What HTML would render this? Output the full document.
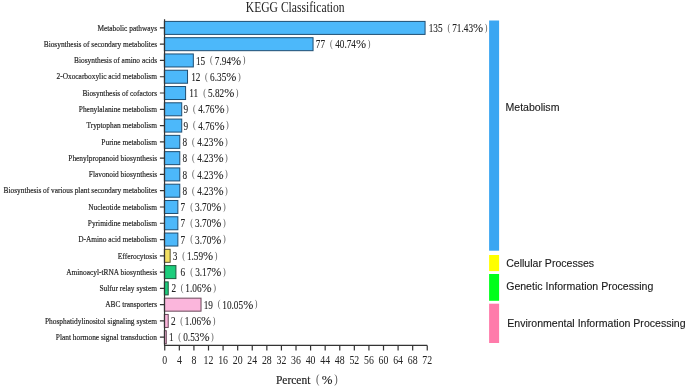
<!DOCTYPE html><html><head><meta charset="utf-8"><style>html,body{margin:0;padding:0;background:#fff;width:685px;height:386px;overflow:hidden}svg{display:block;will-change:transform}text{font-family:"Liberation Serif",serif;fill:#222;stroke:#222;stroke-width:0.18px}.p{fill:#555;stroke:none}.n{stroke:none}.v{stroke-width:0.1px}.s{font-family:"Liberation Sans",sans-serif;fill:#1a1a1a;stroke:#1a1a1a;stroke-width:0.12px}</style></head><body>
<svg width="685" height="386" viewBox="0 0 685 386">
<text transform="translate(245.77,12.30) scale(0.835,1)" font-size="13.9" class="n">KEGG Classification</text>
<rect x="164.35" y="21.40" width="260.72" height="13.00" fill="#4cb8fa" stroke="#1f4e72" stroke-width="1"/>
<rect x="164.35" y="37.68" width="148.70" height="13.00" fill="#4cb8fa" stroke="#1f4e72" stroke-width="1"/>
<rect x="164.35" y="53.96" width="28.98" height="13.00" fill="#4cb8fa" stroke="#1f4e72" stroke-width="1"/>
<rect x="164.35" y="70.24" width="23.18" height="13.00" fill="#4cb8fa" stroke="#1f4e72" stroke-width="1"/>
<rect x="164.35" y="86.52" width="21.24" height="13.00" fill="#4cb8fa" stroke="#1f4e72" stroke-width="1"/>
<rect x="164.35" y="102.80" width="17.37" height="13.00" fill="#4cb8fa" stroke="#1f4e72" stroke-width="1"/>
<rect x="164.35" y="119.08" width="17.37" height="13.00" fill="#4cb8fa" stroke="#1f4e72" stroke-width="1"/>
<rect x="164.35" y="135.36" width="15.44" height="13.00" fill="#4cb8fa" stroke="#1f4e72" stroke-width="1"/>
<rect x="164.35" y="151.64" width="15.44" height="13.00" fill="#4cb8fa" stroke="#1f4e72" stroke-width="1"/>
<rect x="164.35" y="167.92" width="15.44" height="13.00" fill="#4cb8fa" stroke="#1f4e72" stroke-width="1"/>
<rect x="164.35" y="184.20" width="15.44" height="13.00" fill="#4cb8fa" stroke="#1f4e72" stroke-width="1"/>
<rect x="164.35" y="200.48" width="13.51" height="13.00" fill="#4cb8fa" stroke="#1f4e72" stroke-width="1"/>
<rect x="164.35" y="216.76" width="13.51" height="13.00" fill="#4cb8fa" stroke="#1f4e72" stroke-width="1"/>
<rect x="164.35" y="233.04" width="13.51" height="13.00" fill="#4cb8fa" stroke="#1f4e72" stroke-width="1"/>
<rect x="164.35" y="249.32" width="5.80" height="13.00" fill="#f2df62" stroke="#5a5430" stroke-width="1"/>
<rect x="164.35" y="265.60" width="11.57" height="13.00" fill="#1ccd7c" stroke="#1d5a3e" stroke-width="1"/>
<rect x="164.35" y="281.88" width="3.87" height="13.00" fill="#1ccd7c" stroke="#1d5a3e" stroke-width="1"/>
<rect x="164.35" y="298.16" width="36.68" height="13.00" fill="#fbb6dc" stroke="#6a4a5a" stroke-width="1"/>
<rect x="164.35" y="314.44" width="3.87" height="13.00" fill="#fbb6dc" stroke="#6a4a5a" stroke-width="1"/>
<rect x="164.35" y="330.72" width="1.93" height="13.00" fill="#fbb6dc" stroke="#6a4a5a" stroke-width="1"/>
<path d="M164.55 19.30 V345.40 H427.26" fill="none" stroke="#333" stroke-width="1.2"/>
<path d="M159.90 27.90 H164.60M159.90 44.18 H164.60M159.90 60.46 H164.60M159.90 76.74 H164.60M159.90 93.02 H164.60M159.90 109.30 H164.60M159.90 125.58 H164.60M159.90 141.86 H164.60M159.90 158.14 H164.60M159.90 174.42 H164.60M159.90 190.70 H164.60M159.90 206.98 H164.60M159.90 223.26 H164.60M159.90 239.54 H164.60M159.90 255.82 H164.60M159.90 272.10 H164.60M159.90 288.38 H164.60M159.90 304.66 H164.60M159.90 320.94 H164.60M159.90 337.22 H164.60" stroke="#333" stroke-width="1.2"/>
<path d="M164.75 345.40 V350.40M179.33 345.40 V350.40M193.92 345.40 V350.40M208.50 345.40 V350.40M223.09 345.40 V350.40M237.67 345.40 V350.40M252.25 345.40 V350.40M266.84 345.40 V350.40M281.42 345.40 V350.40M296.01 345.40 V350.40M310.59 345.40 V350.40M325.17 345.40 V350.40M339.76 345.40 V350.40M354.34 345.40 V350.40M368.93 345.40 V350.40M383.51 345.40 V350.40M398.09 345.40 V350.40M412.68 345.40 V350.40M427.26 345.40 V350.40" stroke="#333" stroke-width="1.2"/>
<text transform="translate(164.75,363.90) scale(0.82,1)" font-size="12.0" text-anchor="middle" class="n">0</text>
<text transform="translate(179.33,363.90) scale(0.82,1)" font-size="12.0" text-anchor="middle" class="n">4</text>
<text transform="translate(193.92,363.90) scale(0.82,1)" font-size="12.0" text-anchor="middle" class="n">8</text>
<text transform="translate(208.50,363.90) scale(0.82,1)" font-size="12.0" text-anchor="middle" class="n">12</text>
<text transform="translate(223.09,363.90) scale(0.82,1)" font-size="12.0" text-anchor="middle" class="n">16</text>
<text transform="translate(237.67,363.90) scale(0.82,1)" font-size="12.0" text-anchor="middle" class="n">20</text>
<text transform="translate(252.25,363.90) scale(0.82,1)" font-size="12.0" text-anchor="middle" class="n">24</text>
<text transform="translate(266.84,363.90) scale(0.82,1)" font-size="12.0" text-anchor="middle" class="n">28</text>
<text transform="translate(281.42,363.90) scale(0.82,1)" font-size="12.0" text-anchor="middle" class="n">32</text>
<text transform="translate(296.01,363.90) scale(0.82,1)" font-size="12.0" text-anchor="middle" class="n">36</text>
<text transform="translate(310.59,363.90) scale(0.82,1)" font-size="12.0" text-anchor="middle" class="n">40</text>
<text transform="translate(325.17,363.90) scale(0.82,1)" font-size="12.0" text-anchor="middle" class="n">44</text>
<text transform="translate(339.76,363.90) scale(0.82,1)" font-size="12.0" text-anchor="middle" class="n">48</text>
<text transform="translate(354.34,363.90) scale(0.82,1)" font-size="12.0" text-anchor="middle" class="n">52</text>
<text transform="translate(368.93,363.90) scale(0.82,1)" font-size="12.0" text-anchor="middle" class="n">56</text>
<text transform="translate(383.51,363.90) scale(0.82,1)" font-size="12.0" text-anchor="middle" class="n">60</text>
<text transform="translate(398.09,363.90) scale(0.82,1)" font-size="12.0" text-anchor="middle" class="n">64</text>
<text transform="translate(412.68,363.90) scale(0.82,1)" font-size="12.0" text-anchor="middle" class="n">68</text>
<text transform="translate(427.26,363.90) scale(0.82,1)" font-size="12.0" text-anchor="middle" class="n">72</text>
<text transform="translate(275.97,383.80) scale(0.89,1)" font-size="12.9">Percent</text>
<text transform="translate(315.92,383.00) scale(0.85,1)" font-size="12.254999999999999" class="p">(</text>
<text transform="translate(321.86,383.80) scale(1.0,1)" font-size="12.9">%</text>
<text transform="translate(334.15,383.00) scale(0.85,1)" font-size="12.254999999999999" class="p">)</text>
<text transform="translate(157.07,30.65) scale(0.822,1)" font-size="9.0" text-anchor="end">Metabolic pathways</text>
<text transform="translate(157.07,46.93) scale(0.822,1)" font-size="9.0" text-anchor="end">Biosynthesis of secondary metabolites</text>
<text transform="translate(157.07,63.21) scale(0.822,1)" font-size="9.0" text-anchor="end">Biosynthesis of amino acids</text>
<text transform="translate(156.92,79.49) scale(0.822,1)" font-size="9.0" text-anchor="end">2-Oxocarboxylic acid metabolism</text>
<text transform="translate(157.07,95.77) scale(0.822,1)" font-size="9.0" text-anchor="end">Biosynthesis of cofactors</text>
<text transform="translate(156.92,112.05) scale(0.822,1)" font-size="9.0" text-anchor="end">Phenylalanine metabolism</text>
<text transform="translate(156.92,128.33) scale(0.822,1)" font-size="9.0" text-anchor="end">Tryptophan metabolism</text>
<text transform="translate(156.92,144.61) scale(0.822,1)" font-size="9.0" text-anchor="end">Purine metabolism</text>
<text transform="translate(157.07,160.89) scale(0.822,1)" font-size="9.0" text-anchor="end">Phenylpropanoid biosynthesis</text>
<text transform="translate(157.07,177.17) scale(0.822,1)" font-size="9.0" text-anchor="end">Flavonoid biosynthesis</text>
<text transform="translate(157.07,193.45) scale(0.822,1)" font-size="9.0" text-anchor="end">Biosynthesis of various plant secondary metabolites</text>
<text transform="translate(156.92,209.73) scale(0.822,1)" font-size="9.0" text-anchor="end">Nucleotide metabolism</text>
<text transform="translate(156.92,226.01) scale(0.822,1)" font-size="9.0" text-anchor="end">Pyrimidine metabolism</text>
<text transform="translate(156.92,242.29) scale(0.822,1)" font-size="9.0" text-anchor="end">D-Amino acid metabolism</text>
<text transform="translate(157.07,258.57) scale(0.822,1)" font-size="9.0" text-anchor="end">Efferocytosis</text>
<text transform="translate(157.07,274.85) scale(0.822,1)" font-size="9.0" text-anchor="end">Aminoacyl-tRNA biosynthesis</text>
<text transform="translate(156.92,291.13) scale(0.822,1)" font-size="9.0" text-anchor="end">Sulfur relay system</text>
<text transform="translate(157.07,307.41) scale(0.822,1)" font-size="9.0" text-anchor="end">ABC transporters</text>
<text transform="translate(156.92,323.69) scale(0.822,1)" font-size="9.0" text-anchor="end">Phosphatidylinositol signaling system</text>
<text transform="translate(156.91,339.97) scale(0.822,1)" font-size="9.0" text-anchor="end">Plant hormone signal transduction</text>
<text transform="translate(428.67,32.00) scale(0.785,1)" font-size="11.8" class="v">135</text>
<text transform="translate(447.44,30.70) scale(0.85,1)" font-size="9.6" class="p">(</text>
<text transform="translate(452.19,32.00) scale(0.785,1)" font-size="11.8" class="v">71.43</text>
<text transform="translate(473.03,32.00) scale(1.03,1)" font-size="11.8" class="v">%</text>
<text transform="translate(484.68,30.70) scale(0.85,1)" font-size="9.6" class="p">)</text>
<text transform="translate(315.75,48.28) scale(0.785,1)" font-size="11.8" class="v">77</text>
<text transform="translate(329.99,46.98) scale(0.85,1)" font-size="9.6" class="p">(</text>
<text transform="translate(335.16,48.28) scale(0.785,1)" font-size="11.8" class="v">40.74</text>
<text transform="translate(356.00,48.28) scale(1.03,1)" font-size="11.8" class="v">%</text>
<text transform="translate(367.65,46.98) scale(0.85,1)" font-size="9.6" class="p">)</text>
<text transform="translate(195.93,64.56) scale(0.785,1)" font-size="11.8" class="v">15</text>
<text transform="translate(210.07,63.26) scale(0.85,1)" font-size="9.6" class="p">(</text>
<text transform="translate(214.82,64.56) scale(0.785,1)" font-size="11.8" class="v">7.94</text>
<text transform="translate(231.03,64.56) scale(1.03,1)" font-size="11.8" class="v">%</text>
<text transform="translate(242.67,63.26) scale(0.85,1)" font-size="9.6" class="p">)</text>
<text transform="translate(191.13,80.84) scale(0.785,1)" font-size="11.8" class="v">12</text>
<text transform="translate(205.12,79.54) scale(0.85,1)" font-size="9.6" class="p">(</text>
<text transform="translate(210.08,80.84) scale(0.785,1)" font-size="11.8" class="v">6.35</text>
<text transform="translate(226.29,80.84) scale(1.03,1)" font-size="11.8" class="v">%</text>
<text transform="translate(237.93,79.54) scale(0.85,1)" font-size="9.6" class="p">)</text>
<text transform="translate(189.19,97.12) scale(0.785,1)" font-size="11.8" class="v">11</text>
<text transform="translate(203.14,95.82) scale(0.85,1)" font-size="9.6" class="p">(</text>
<text transform="translate(207.96,97.12) scale(0.785,1)" font-size="11.8" class="v">5.82</text>
<text transform="translate(224.17,97.12) scale(1.03,1)" font-size="11.8" class="v">%</text>
<text transform="translate(235.81,95.82) scale(0.85,1)" font-size="9.6" class="p">)</text>
<text transform="translate(183.52,113.40) scale(0.785,1)" font-size="11.8" class="v">9</text>
<text transform="translate(193.02,112.10) scale(0.85,1)" font-size="9.6" class="p">(</text>
<text transform="translate(198.19,113.40) scale(0.785,1)" font-size="11.8" class="v">4.76</text>
<text transform="translate(214.40,113.40) scale(1.03,1)" font-size="11.8" class="v">%</text>
<text transform="translate(226.05,112.10) scale(0.85,1)" font-size="9.6" class="p">)</text>
<text transform="translate(183.52,129.68) scale(0.785,1)" font-size="11.8" class="v">9</text>
<text transform="translate(193.02,128.38) scale(0.85,1)" font-size="9.6" class="p">(</text>
<text transform="translate(198.19,129.68) scale(0.785,1)" font-size="11.8" class="v">4.76</text>
<text transform="translate(214.40,129.68) scale(1.03,1)" font-size="11.8" class="v">%</text>
<text transform="translate(226.05,128.38) scale(0.85,1)" font-size="9.6" class="p">)</text>
<text transform="translate(182.49,145.96) scale(0.785,1)" font-size="11.8" class="v">8</text>
<text transform="translate(192.01,144.66) scale(0.85,1)" font-size="9.6" class="p">(</text>
<text transform="translate(197.18,145.96) scale(0.785,1)" font-size="11.8" class="v">4.23</text>
<text transform="translate(213.39,145.96) scale(1.03,1)" font-size="11.8" class="v">%</text>
<text transform="translate(225.04,144.66) scale(0.85,1)" font-size="9.6" class="p">)</text>
<text transform="translate(182.49,162.24) scale(0.785,1)" font-size="11.8" class="v">8</text>
<text transform="translate(192.01,160.94) scale(0.85,1)" font-size="9.6" class="p">(</text>
<text transform="translate(197.18,162.24) scale(0.785,1)" font-size="11.8" class="v">4.23</text>
<text transform="translate(213.39,162.24) scale(1.03,1)" font-size="11.8" class="v">%</text>
<text transform="translate(225.04,160.94) scale(0.85,1)" font-size="9.6" class="p">)</text>
<text transform="translate(182.49,178.52) scale(0.785,1)" font-size="11.8" class="v">8</text>
<text transform="translate(192.01,177.22) scale(0.85,1)" font-size="9.6" class="p">(</text>
<text transform="translate(197.18,178.52) scale(0.785,1)" font-size="11.8" class="v">4.23</text>
<text transform="translate(213.39,178.52) scale(1.03,1)" font-size="11.8" class="v">%</text>
<text transform="translate(225.04,177.22) scale(0.85,1)" font-size="9.6" class="p">)</text>
<text transform="translate(182.49,194.80) scale(0.785,1)" font-size="11.8" class="v">8</text>
<text transform="translate(192.01,193.50) scale(0.85,1)" font-size="9.6" class="p">(</text>
<text transform="translate(197.18,194.80) scale(0.785,1)" font-size="11.8" class="v">4.23</text>
<text transform="translate(213.39,194.80) scale(1.03,1)" font-size="11.8" class="v">%</text>
<text transform="translate(225.04,193.50) scale(0.85,1)" font-size="9.6" class="p">)</text>
<text transform="translate(180.55,211.08) scale(0.785,1)" font-size="11.8" class="v">7</text>
<text transform="translate(190.16,209.78) scale(0.85,1)" font-size="9.6" class="p">(</text>
<text transform="translate(195.07,211.08) scale(0.785,1)" font-size="11.8" class="v">3.70</text>
<text transform="translate(211.28,211.08) scale(1.03,1)" font-size="11.8" class="v">%</text>
<text transform="translate(222.93,209.78) scale(0.85,1)" font-size="9.6" class="p">)</text>
<text transform="translate(180.55,227.36) scale(0.785,1)" font-size="11.8" class="v">7</text>
<text transform="translate(190.16,226.06) scale(0.85,1)" font-size="9.6" class="p">(</text>
<text transform="translate(195.07,227.36) scale(0.785,1)" font-size="11.8" class="v">3.70</text>
<text transform="translate(211.28,227.36) scale(1.03,1)" font-size="11.8" class="v">%</text>
<text transform="translate(222.93,226.06) scale(0.85,1)" font-size="9.6" class="p">)</text>
<text transform="translate(180.55,243.64) scale(0.785,1)" font-size="11.8" class="v">7</text>
<text transform="translate(190.16,242.34) scale(0.85,1)" font-size="9.6" class="p">(</text>
<text transform="translate(195.07,243.64) scale(0.785,1)" font-size="11.8" class="v">3.70</text>
<text transform="translate(211.28,243.64) scale(1.03,1)" font-size="11.8" class="v">%</text>
<text transform="translate(222.93,242.34) scale(0.85,1)" font-size="9.6" class="p">)</text>
<text transform="translate(172.85,259.92) scale(0.785,1)" font-size="11.8" class="v">3</text>
<text transform="translate(182.36,258.62) scale(0.85,1)" font-size="9.6" class="p">(</text>
<text transform="translate(186.90,259.92) scale(0.785,1)" font-size="11.8" class="v">1.59</text>
<text transform="translate(203.12,259.92) scale(1.03,1)" font-size="11.8" class="v">%</text>
<text transform="translate(214.76,258.62) scale(0.85,1)" font-size="9.6" class="p">)</text>
<text transform="translate(180.62,276.20) scale(0.785,1)" font-size="11.8" class="v">6</text>
<text transform="translate(190.22,274.90) scale(0.85,1)" font-size="9.6" class="p">(</text>
<text transform="translate(195.13,276.20) scale(0.785,1)" font-size="11.8" class="v">3.17</text>
<text transform="translate(211.34,276.20) scale(1.03,1)" font-size="11.8" class="v">%</text>
<text transform="translate(222.98,274.90) scale(0.85,1)" font-size="9.6" class="p">)</text>
<text transform="translate(171.42,292.48) scale(0.785,1)" font-size="11.8" class="v">2</text>
<text transform="translate(180.78,291.18) scale(0.85,1)" font-size="9.6" class="p">(</text>
<text transform="translate(185.32,292.48) scale(0.785,1)" font-size="11.8" class="v">1.06</text>
<text transform="translate(201.53,292.48) scale(1.03,1)" font-size="11.8" class="v">%</text>
<text transform="translate(213.18,291.18) scale(0.85,1)" font-size="9.6" class="p">)</text>
<text transform="translate(203.63,308.76) scale(0.785,1)" font-size="11.8" class="v">19</text>
<text transform="translate(217.76,307.46) scale(0.85,1)" font-size="9.6" class="p">(</text>
<text transform="translate(222.30,308.76) scale(0.785,1)" font-size="11.8" class="v">10.05</text>
<text transform="translate(243.14,308.76) scale(1.03,1)" font-size="11.8" class="v">%</text>
<text transform="translate(254.78,307.46) scale(0.85,1)" font-size="9.6" class="p">)</text>
<text transform="translate(170.92,325.04) scale(0.785,1)" font-size="11.8" class="v">2</text>
<text transform="translate(180.28,323.74) scale(0.85,1)" font-size="9.6" class="p">(</text>
<text transform="translate(184.82,325.04) scale(0.785,1)" font-size="11.8" class="v">1.06</text>
<text transform="translate(201.03,325.04) scale(1.03,1)" font-size="11.8" class="v">%</text>
<text transform="translate(212.68,323.74) scale(0.85,1)" font-size="9.6" class="p">)</text>
<text transform="translate(168.88,341.32) scale(0.785,1)" font-size="11.8" class="v">1</text>
<text transform="translate(178.20,340.02) scale(0.85,1)" font-size="9.6" class="p">(</text>
<text transform="translate(183.20,341.32) scale(0.785,1)" font-size="11.8" class="v">0.53</text>
<text transform="translate(199.41,341.32) scale(1.03,1)" font-size="11.8" class="v">%</text>
<text transform="translate(211.06,340.02) scale(0.85,1)" font-size="9.6" class="p">)</text>
<rect x="489.1" y="20.5" width="10" height="230.2" fill="#3aa6f2"/>
<rect x="489.1" y="255" width="10" height="16.1" fill="#ffff00"/>
<rect x="489.1" y="274" width="10" height="26.8" fill="#00ff1a"/>
<rect x="489.1" y="303.7" width="10" height="39.3" fill="#ff7baa"/>
<text class="s" x="505.5" y="110.8" font-size="10.55">Metabolism</text>
<text class="s" x="506.2" y="266.8" font-size="10.55">Cellular Processes</text>
<text class="s" x="506.2" y="290.2" font-size="10.55">Genetic Information Processing</text>
<text class="s" x="507.3" y="326.8" font-size="10.55">Environmental Information Processing</text>
</svg></body></html>
